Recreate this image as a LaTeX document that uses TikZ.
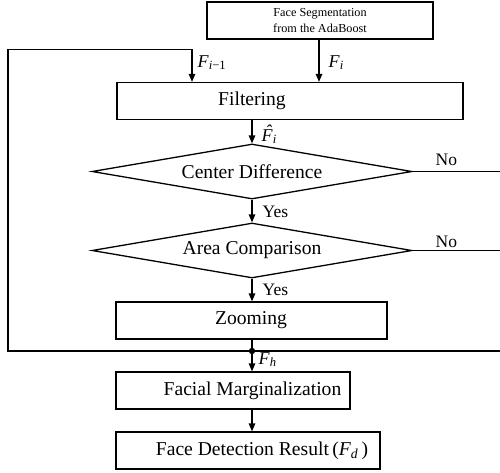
\documentclass[tikz,border=0pt]{standalone}
\usepackage{fontspec}
\setmainfont{Liberation Serif}
\usetikzlibrary{shapes.geometric,arrows.meta}
\newcommand\boxtxt[3]{\makebox[#1][l]{\makebox[#2]{#3}}}
\newcommand\hatF{\makebox[0pt][l]{\kern0.2em\raisebox{0.22em}{\textit{ˆ}}}\textit{F}}
\begin{document}
\begin{tikzpicture}[x=1pt,y=-1pt,
  line width=1.3pt,
  box/.style={draw,rectangle,inner sep=0pt,minimum height=37pt,font=\fontsize{19.6}{22}\selectfont},
  dec/.style={draw,diamond,aspect=5.82,inner sep=0pt,minimum width=320pt,minimum height=55pt,font=\fontsize{19.6}{22}\selectfont},
  arr/.style={-{Triangle[length=8pt,width=6.5pt]}},
  lab/.style={inner sep=0pt,anchor=base west,font=\fontsize{17.5}{20}\selectfont},
  mlab/.style={inner sep=0pt,anchor=base west,font=\fontsize{18}{20}\selectfont}]
\useasboundingbox (0,0) rectangle (500,472);

% nodes
\node[box,minimum width=226pt,align=center,font=\fontsize{12.2}{16}\selectfont] (seg) at (320,20.5) {Face Segmentation\\from the AdaBoost};
\node[box] (filt) at (290,101) {\boxtxt{346pt}{270pt}{Filtering}};
\node[dec] (d1) at (252,171.5) {Center Difference};
\node[dec] (d2) at (252,250.5) {Area Comparison};
\node[box] (zoom) at (251.5,320.5) {\boxtxt{271pt}{270pt}{Zooming}};
\node[box] (fm) at (233,390.5) {\boxtxt{234pt}{273pt}{Facial Marginalization}};
\node[box] (fdr) at (248,450.5) {\boxtxt{264pt}{292pt}{Face Detection Result\,(\textit{F}\textsubscript{\textit{d}}\,)}};

% helper coordinates
\coordinate (col) at (252,0);
\coordinate (fbx) at (192,0);
\coordinate (lt) at (8,49.5);
\coordinate (lb) at (8,351);
\coordinate (rb) at (500,351);
\coordinate (r1) at (500,171.5);
\coordinate (r2) at (500,250.5);
\coordinate (dot) at (252,351);

% connectors
\draw[arr] (seg.south -| 319,0) -- (filt.north -| 319,0);
\draw[arr] (rb) -- (lb) -- (lt) -- (lt -| fbx) -- (filt.north -| fbx);
\draw[arr] (filt.south -| col) -- (d1.north);
\draw[arr] (d1.south) -- (d2.north);
\draw[arr] (d2.south) -- (zoom.north -| col);
\draw[arr] (zoom.south -| col) -- (fm.north -| col);
\draw[arr] (fm.south -| col) -- (fdr.north -| col);
\draw (d1.east) -- (r1);
\draw (d2.east) -- (r2);
\fill (dot) circle (3.2pt);

% labels
\node[mlab] (lfim) at (197,67) {\textit{F}\textsubscript{\textit{i}−1}};
\node[mlab] (lfi) at (328,67) {\textit{F}\textsubscript{\textit{i}}};
\node[mlab] (lfh) at (261,141) {\hatF\textsubscript{\textit{i}}};
\node[lab] (y1) at (262,217) {Yes};
\node[lab] (y2) at (262,295) {Yes};
\node[lab] (n1) at (435,165) {No};
\node[lab] (n2) at (435,247) {No};
\node[mlab] (lfhh) at (258,364) {\textit{F}\textsubscript{\textit{h}}};
\end{tikzpicture}
\end{document}
